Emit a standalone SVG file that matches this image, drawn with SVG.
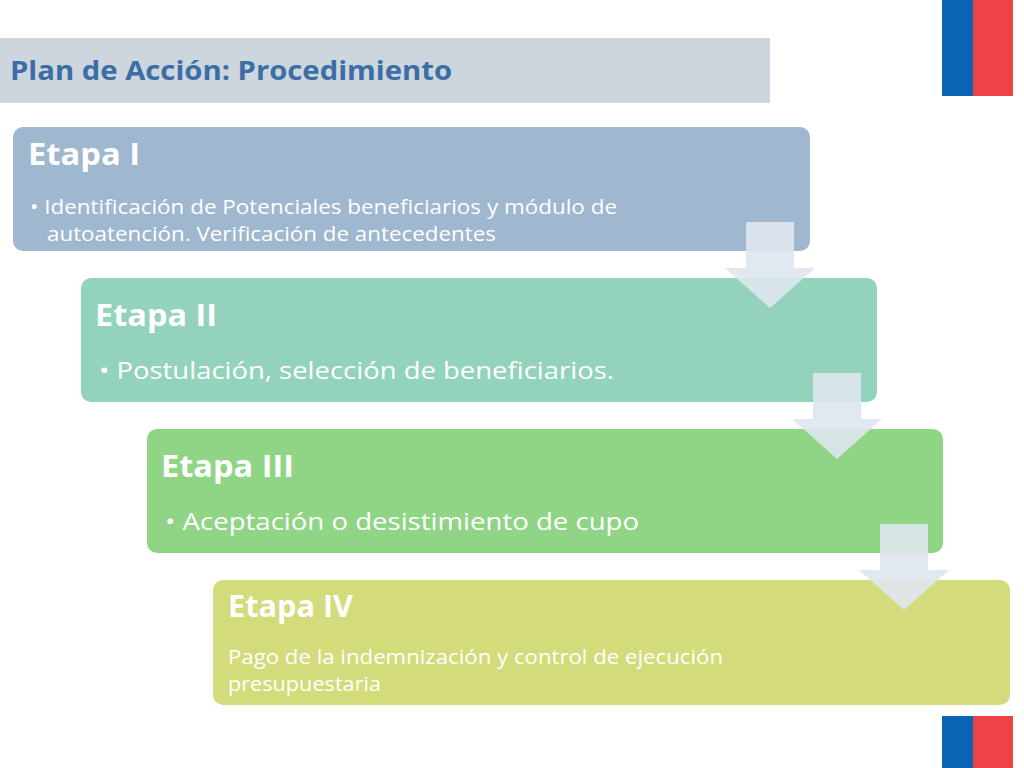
<svg xmlns="http://www.w3.org/2000/svg" width="1024" height="768" viewBox="0 0 1024 768">
<defs>
<style>
.h{font-family:"Open Sans","Liberation Sans",sans-serif;fill:#fff;font-weight:bold;font-size:30px}
.t{font-family:"Open Sans","Liberation Sans",sans-serif;fill:#fff;font-size:20px}
.t2{font-family:"Open Sans","Liberation Sans",sans-serif;fill:#fff;font-size:24px}
.arr{fill:#dfe5ee;fill-opacity:0.9}
</style>
<g id="arrowShape"><path class="arr" d="M0,0 H48 V46 H69 L24,86 L-21,46 H0 Z"/></g>
</defs>
<rect width="1024" height="768" fill="#fff"/>
<g id="flags">
<rect x="942" y="0" width="31" height="96" fill="#0a64b4"/><rect x="973" y="0" width="40" height="96" fill="#ef4247"/>
<rect x="942" y="716" width="31" height="52" fill="#0a64b4"/><rect x="973" y="716" width="40" height="52" fill="#ef4247"/>
</g>
<g id="title">
<rect x="0" y="38" width="770" height="65" fill="#cdd5dd"/>
<text x="10" y="80" font-family="'Open Sans','Liberation Sans',sans-serif" font-weight="bold" font-size="27" fill="#3b6ea6" textLength="442" lengthAdjust="spacingAndGlyphs">Plan de Acción: Procedimiento</text>
</g>
<g id="etapa1">
<rect x="13" y="127" width="797" height="124" rx="10" fill="#9fb7cf"/>
<text class="h" x="28" y="165" textLength="112" lengthAdjust="spacingAndGlyphs">Etapa I</text>
<text class="t" x="30" y="214" textLength="587" lengthAdjust="spacingAndGlyphs">• Identificación de Potenciales beneficiarios y módulo de</text>
<text class="t" x="47" y="241" textLength="449" lengthAdjust="spacingAndGlyphs">autoatención. Verificación de antecedentes</text>
</g>
<g id="etapa2">
<rect x="81" y="278" width="796" height="124" rx="10" fill="#93d3bb"/>
<text class="h" x="95" y="326" textLength="122" lengthAdjust="spacingAndGlyphs">Etapa II</text>
<text class="t2" x="99" y="379" textLength="515" lengthAdjust="spacingAndGlyphs">• Postulación, selección de beneficiarios.</text>
</g>
<g id="etapa3">
<rect x="147" y="429" width="796" height="124" rx="10" fill="#8fd585"/>
<text class="h" x="161" y="477" textLength="133" lengthAdjust="spacingAndGlyphs">Etapa III</text>
<text class="t2" x="165" y="530" textLength="474" lengthAdjust="spacingAndGlyphs">• Aceptación o desistimiento de cupo</text>
</g>
<g id="etapa4">
<rect x="213" y="580" width="797" height="125" rx="10" fill="#d3db7b"/>
<text class="h" x="228" y="617" textLength="125" lengthAdjust="spacingAndGlyphs">Etapa IV</text>
<text class="t" x="228" y="664" textLength="495" lengthAdjust="spacingAndGlyphs">Pago de la indemnización y control de ejecución</text>
<text class="t" x="228" y="691" textLength="153" lengthAdjust="spacingAndGlyphs">presupuestaria</text>
</g>
<g id="connectors">
<use href="#arrowShape" x="746" y="222"/>
<use href="#arrowShape" x="813" y="373"/>
<use href="#arrowShape" x="880" y="524"/>
</g>
</svg>
